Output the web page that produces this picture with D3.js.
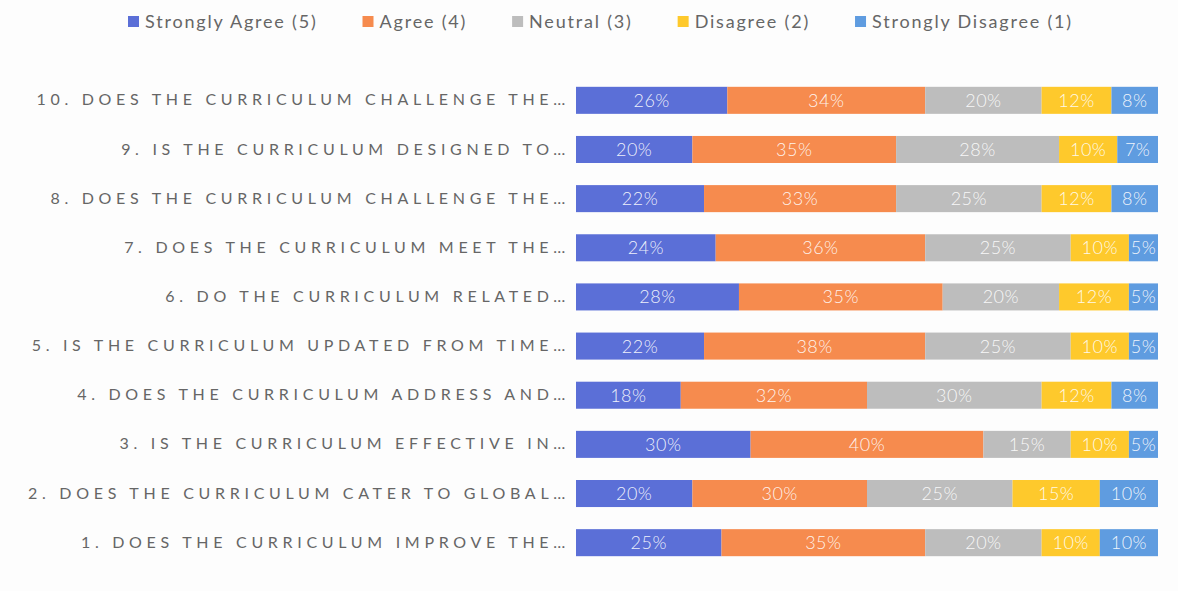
<!DOCTYPE html>
<html>
<head>
<meta charset="utf-8">
<script src="https://cdn.jsdelivr.net/npm/d3@7"></script>
<style>
    body { margin: 0; background: #fdfdfd; }
    svg { display: block; }
</style>
</head>
<body>
<div id="chart"></div>
<script>
"use strict"

// questions, bottom to top as in the chart
const questions = [
    "1. DOES THE CURRICULUM IMPROVE THE…",
    "2. DOES THE CURRICULUM CATER TO GLOBAL…",
    "3. IS THE CURRICULUM EFFECTIVE IN…",
    "4. DOES THE CURRICULUM ADDRESS AND…",
    "5. IS THE CURRICULUM UPDATED FROM TIME…",
    "6. DO THE CURRICULUM RELATED…",
    "7. DOES THE CURRICULUM MEET THE…",
    "8. DOES THE CURRICULUM CHALLENGE THE…",
    "9. IS THE CURRICULUM DESIGNED TO…",
    "10. DOES THE CURRICULUM CHALLENGE THE…"
];

const seriesNames = ["Strongly Agree (5)", "Agree (4)", "Neutral (3)", "Disagree (2)", "Strongly Disagree (1)"];
const seriesColors = ["#5b6fd7", "#f68b4e", "#bdbdbd", "#fec92c", "#5f9ce0"];

// percentages per series, one per question (1..10)
const stronglyAgree    = [25, 20, 30, 18, 22, 28, 24, 22, 20, 26];
const agree            = [35, 30, 40, 32, 38, 35, 36, 33, 35, 34];
const neutral          = [20, 25, 15, 30, 25, 20, 25, 25, 28, 20];
const disagree         = [10, 15, 10, 12, 10, 12, 10, 12, 10, 12];
const stronglyDisagree = [10, 10,  5,  8,  5,  5,  5,  8,  7,  8];

const keys = ["sa", "a", "n", "d", "sd"];
const rows = questions.map((q, i) => ({
    q: q,
    sa: stronglyAgree[i],
    a: agree[i],
    n: neutral[i],
    d: disagree[i],
    sd: stronglyDisagree[i]
}));

const width = 1178, height = 591;
const margin = { top: 76, left: 576, right: 20, bottom: 24 };

const svg = d3.select("#chart").append("svg")
    .attr("width", width)
    .attr("height", height);

const x = d3.scaleLinear()
    .domain([0, 100])
    .range([margin.left, width - margin.right]);

// top row is question 10
const y = d3.scaleBand()
    .domain(questions.slice().reverse())
    .range([margin.top, height - margin.bottom])
    .paddingInner(0.45)
    .paddingOuter(0.22);

const color = d3.scaleOrdinal().domain(keys).range(seriesColors);

const stacked = d3.stack().keys(keys)(rows);

const layer = svg.append("g").selectAll("g")
    .data(stacked)
    .join("g")
    .attr("fill", d => color(d.key));

layer.selectAll("rect")
    .data(d => d.map(v => ({ key: d.key, v: v })))
    .join("rect")
    .attr("x", d => x(d.v[0]))
    .attr("y", d => y(d.v.data.q))
    .attr("width", d => x(d.v[1]) - x(d.v[0]))
    .attr("height", y.bandwidth());

layer.selectAll("text")
    .data(d => d.map(v => ({ key: d.key, v: v })))
    .join("text")
    .attr("x", d => (x(d.v[0]) + x(d.v[1])) / 2)
    .attr("y", d => y(d.v.data.q) + y.bandwidth() / 2)
    .attr("dy", "0.36em")
    .attr("text-anchor", "middle")
    .style("font-family", "Lato, 'Open Sans', sans-serif")
    .style("font-weight", 300)
    .style("font-size", "18px")
    .style("letter-spacing", "0.5px")
    .style("fill", "#ffffff")
    .style("fill-opacity", 0.9)
    .text(d => (d.v[1] - d.v[0]) + "%");

// category axis
const yAxis = svg.append("g")
    .attr("transform", `translate(${margin.left - 6},0)`)
    .call(d3.axisLeft(y).tickSize(0).tickPadding(0));

yAxis.select(".domain").remove();
yAxis.selectAll("text")
    .style("font-family", "Lato, 'Open Sans', sans-serif")
    .style("font-size", "16px")
    .style("letter-spacing", "4.7px")
    .style("fill", "#666666");

// legend
const legend = svg.append("g")
    .attr("transform", "translate(0,22)");

let lx = 128;
seriesNames.forEach((name, i) => {
    legend.append("rect")
        .attr("x", lx)
        .attr("y", -6)
        .attr("width", 11)
        .attr("height", 11)
        .style("fill", seriesColors[i]);

    const t = legend.append("text")
        .attr("x", lx + 17)
        .attr("y", 0)
        .attr("dy", "0.35em")
        .style("font-family", "Lato, 'Open Sans', sans-serif")
        .style("font-size", "18px")
        .style("letter-spacing", "1.8px")
        .style("fill", "#666666")
        .text(name);

    lx += 17 + t.node().getComputedTextLength() + 45;
});
</script>
</body>
</html>
